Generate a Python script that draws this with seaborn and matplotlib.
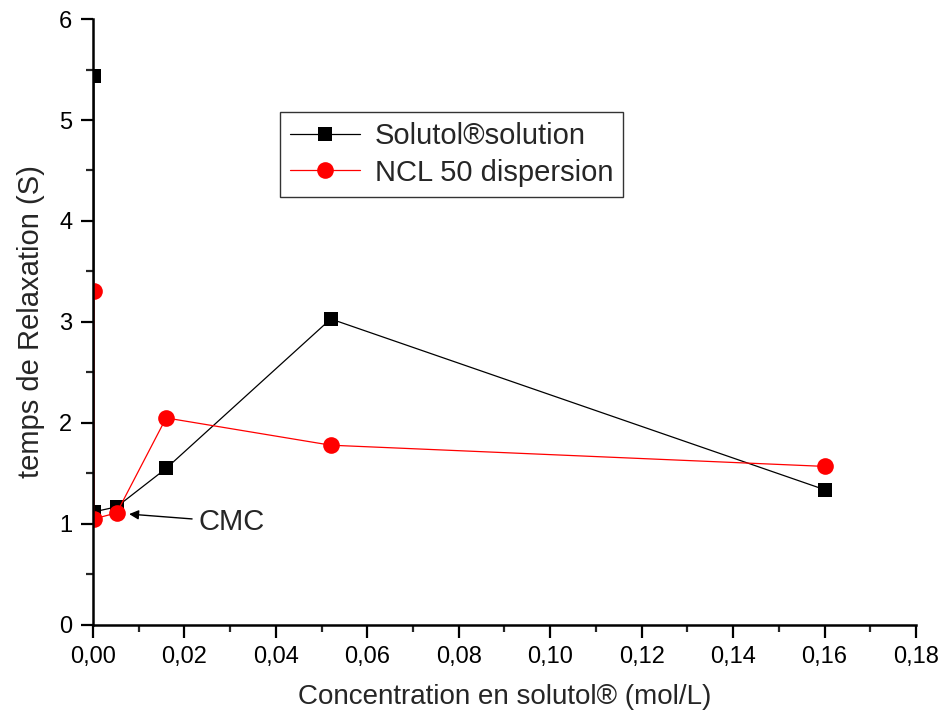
import pandas as pd
import matplotlib.pyplot as plt
import seaborn as sns
from matplotlib.ticker import MultipleLocator, FuncFormatter

# data
conc_solutol = [0.0002, 0.0002, 0.0052, 0.016, 0.052, 0.16]
tr_solutol = [5.44, 1.12, 1.17, 1.55, 3.03, 1.34]
conc_ncl = [0.0002, 0.0002, 0.0052, 0.016, 0.052, 0.16]
tr_ncl = [3.31, 1.05, 1.11, 2.05, 1.78, 1.57]

sns.set_theme(style="ticks")
plt.rcParams["font.family"] = ["Liberation Sans", "DejaVu Sans"]

df_sol = pd.DataFrame({"x": conc_solutol, "y": tr_solutol})
df_ncl = pd.DataFrame({"x": conc_ncl, "y": tr_ncl})

fig = plt.figure(figsize=(9.42, 7.2), dpi=100)
ax = fig.add_axes([0.0987, 0.132, 0.8737, 0.8416])

sns.lineplot(data=df_sol, x="x", y="y", sort=False, estimator=None, ax=ax,
             color="black", lw=0.9, marker="s", markersize=9.5,
             markeredgewidth=0, label="Solutol®solution")
sns.lineplot(data=df_ncl, x="x", y="y", sort=False, estimator=None, ax=ax,
             color="red", lw=0.9, marker="o", markersize=12,
             markeredgewidth=0, label="NCL 50 dispersion")

ax.set_xlim(0, 0.18)
ax.set_ylim(0, 6)
ax.xaxis.set_major_locator(MultipleLocator(0.02))
ax.xaxis.set_minor_locator(MultipleLocator(0.01))
ax.yaxis.set_major_locator(MultipleLocator(1))
ax.yaxis.set_minor_locator(MultipleLocator(0.5))
ax.xaxis.set_major_formatter(FuncFormatter(lambda v, p: f"{v:.2f}".replace(".", ",")))
ax.yaxis.set_major_formatter(FuncFormatter(lambda v, p: f"{v:.0f}"))

for s in ["top", "right"]:
    ax.spines[s].set_visible(False)
for s in ["left", "bottom"]:
    ax.spines[s].set_linewidth(1.8)
    ax.spines[s].set_color("black")
ax.tick_params(which="major", length=9, width=1.6, labelsize=17, colors="black", pad=6)
ax.tick_params(which="minor", length=5, width=1.6)

ax.set_xlabel("Concentration en solutol® (mol/L)", fontsize=20, labelpad=12)
ax.set_ylabel("temps de Relaxation (S)", fontsize=21, labelpad=10)

ax.annotate("CMC", xy=(0.0073, 1.10), xytext=(0.023, 1.02),
            fontsize=21, va="center",
            arrowprops=dict(arrowstyle="-|>", color="black", lw=1, mutation_scale=14))

leg = ax.legend(loc="upper left", bbox_to_anchor=(0.227, 0.847), fontsize=21,
                frameon=True, fancybox=False, edgecolor="black",
                handlelength=2.4, borderpad=0.35, labelspacing=0.3,
                handletextpad=0.5, borderaxespad=0)
leg.get_frame().set_linewidth(1.0)

fig.savefig("out.png", dpi=100)
